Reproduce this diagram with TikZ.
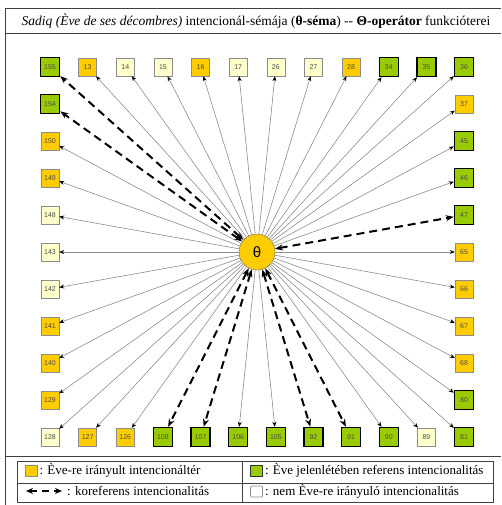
\documentclass[tikz,border=0pt]{standalone}
\usepackage{fontspec}
\setmainfont{Liberation Serif}
\setsansfont{Liberation Sans}
\usetikzlibrary{
  arrows.meta,
  positioning
}
\definecolor{seOrange}{HTML}{FFCC00}
\definecolor{seGreen}{HTML}{99CC00}
\definecolor{seCream}{HTML}{FFFFCC}
\definecolor{seLine}{HTML}{8C8C8C}
\tikzset{
  sebox/.style={
    draw, minimum size=18pt, inner sep=0pt,
    font=\sffamily\fontsize{7}{8}\selectfont, text=black!70
  },
  oriented/.style={sebox, fill=seOrange, draw=seLine},
  referent/.style={sebox, fill=seGreen, draw=black, line width=1.4pt, minimum size=19pt},
  neutral/.style={sebox, fill=seCream, draw=seLine},
  operator/.style={circle, fill=seOrange, draw=black!60, minimum size=36pt, inner sep=0pt,
    font=\sffamily\fontsize{15}{16}\selectfont},
  intent/.style={-{Stealth[length=5pt, width=4pt, color=black]}, black!45, line width=0.6pt},
  coref/.style={{Stealth[length=8pt, width=6pt]}-{Stealth[length=8pt, width=6pt]},
    black, line width=2pt, dash pattern=on 8pt off 5pt},
  frameline/.style={black!75, line width=0.8pt},
  keybox/.style={minimum width=12pt, minimum height=11pt, line width=0.7pt},
  legtext/.style={font=\fontsize{13}{15}\selectfont, inner sep=1pt}
}

\begin{document}
\begin{tikzpicture}[x=1pt, y=-1pt]
  \useasboundingbox (0,0) rectangle (501,505);
  \draw[frameline] (5,505) -- (5,8) -- (501,8);
  \draw[frameline] (5,33) -- (501,33);
  \draw[frameline] (5,456) -- (501,456);
  \node[font=\fontsize{13.5}{15}\selectfont] (title) at (256,21)
    {\textit{Sadiq (Ève de ses décombres)} intencionál-sémája (\textbf{θ-séma}) {-}{-} \textbf{Θ-operátor} funkcióterei};

  \node[operator] (theta) at (257,252) {θ};

  \foreach \num/\kind [count=\i from 0] in {155/referent, 13/oriented, 14/neutral, 15/neutral,
      16/oriented, 17/neutral, 26/neutral, 27/neutral, 28/oriented, 34/referent, 35/referent, 36/referent}
    \node[\kind] (n\num) at ({50+37.64*\i},67) {\num};
  \foreach \num/\kind [count=\i from 0] in {128/neutral, 127/oriented, 126/oriented, 108/referent,
      107/referent, 106/referent, 105/referent, 92/referent, 91/referent, 90/referent, 89/neutral, 81/referent}
    \node[\kind] (n\num) at ({50+37.64*\i},437) {\num};
  \foreach \num/\kind [count=\j from 1] in {154/referent, 150/oriented, 149/oriented, 148/neutral,
      143/neutral, 142/neutral, 141/oriented, 140/oriented, 129/oriented}
    \node[\kind] (n\num) at (50,{67+37*\j}) {\num};
  \foreach \num/\kind [count=\j from 1] in {37/oriented, 45/referent, 46/referent, 47/referent,
      65/oriented, 66/oriented, 67/oriented, 68/oriented, 80/referent}
    \node[\kind] (n\num) at (464,{67+37*\j}) {\num};

  \foreach \num in {13,14,15,16,17,26,27,28,34,35,36,37,45,46,65,66,67,68,80,81,
      90,89,106,105,128,127,126,129,140,141,142,143,148,149,150}
    \draw[intent] (theta) -- (n\num);
  \foreach \num in {155,154,47,108,107,92,91}
    \draw[coref] (theta) -- (n\num);

  \draw[frameline, line width=0.6pt] (17,461) rectangle (493,502);
  \draw[frameline, line width=0.6pt] (17,483) -- (493,483);
  \draw[frameline, line width=0.6pt] (242,461) -- (242,502);
  \node[oriented, keybox] (keyOriented) at (31,470.5) {};
  \node[legtext, right=1pt of keyOriented] {: Ève-re irányult intencionáltér};
  \node[referent, keybox, draw=black!80] (keyReferent) at (256.5,470.5) {};
  \node[legtext, right=1pt of keyReferent] {: Ève jelenlétében referens intencionalitás};
  \coordinate (keyStart) at (26,491);
  \coordinate (keyEnd) at (62,491);
  \draw[coref, line width=1.2pt, dash pattern=on 7pt off 5pt,
    {Stealth[length=7pt, width=6pt]}-{Stealth[length=7pt, width=6pt]}] (keyStart) -- (keyEnd);
  \node[legtext, right=4pt of keyEnd] {: koreferens intencionalitás};
  \node[neutral, keybox, fill=white, rounded corners=1pt] (keyNeutral) at (256.5,491.5) {};
  \node[legtext, right=1pt of keyNeutral] {: nem Ève-re irányuló intencionalitás};
\end{tikzpicture}
\end{document}
